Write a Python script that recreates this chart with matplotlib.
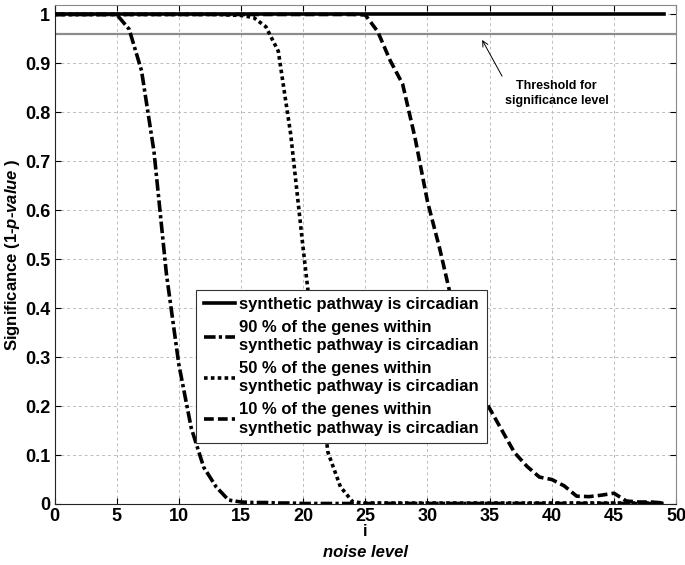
import matplotlib
matplotlib.use('Agg')
import matplotlib.pyplot as plt
import numpy as np

plt.rcParams['font.family'] = ['Liberation Sans', 'DejaVu Sans']
plt.rcParams['font.weight'] = 'bold'
plt.rcParams['mathtext.fontset'] = 'custom'
plt.rcParams['mathtext.rm'] = 'Liberation Sans:bold'
plt.rcParams['mathtext.bfit'] = 'Liberation Sans:italic:bold'

# noise level i = 0 .. 49
noise = list(range(50))

circadian = [1.0] * 50

genes_90 = [1.0, 1.0, 1.0, 1.0, 1.0, 1.0, 0.97, 0.885, 0.72, 0.47,
            0.285, 0.155, 0.075, 0.035, 0.008, 0.004, 0.003, 0.003, 0.002, 0.002,
            0.001, 0.001, 0.001, 0.001, 0.001, 0.001, 0.001, 0.001, 0.001, 0.001,
            0.001, 0.001, 0.001, 0.001, 0.001, 0.001, 0.001, 0.001, 0.001, 0.001,
            0.001, 0.001, 0.001, 0.001, 0.001, 0.001, 0.001, 0.001, 0.001, 0.001]

genes_50 = [1.0, 1.0, 1.0, 1.0, 1.0, 1.0, 1.0, 1.0, 1.0, 1.0,
            1.0, 1.0, 1.0, 1.0, 0.999, 0.998, 0.994, 0.975, 0.925, 0.755,
            0.522, 0.30, 0.105, 0.035, 0.004, 0.002, 0.002, 0.002, 0.002, 0.002,
            0.002, 0.002, 0.002, 0.002, 0.002, 0.002, 0.002, 0.002, 0.002, 0.002,
            0.002, 0.002, 0.002, 0.002, 0.002, 0.002, 0.002, 0.002, 0.002, 0.002]

genes_10 = [1.0, 1.0, 1.0, 1.0, 1.0, 1.0, 1.0, 1.0, 1.0, 1.0,
            1.0, 1.0, 1.0, 1.0, 1.0, 1.0, 1.0, 1.0, 1.0, 1.0,
            1.0, 1.0, 1.0, 1.0, 1.0, 0.999, 0.965, 0.906, 0.858, 0.748,
            0.618, 0.52, 0.41, 0.32, 0.25, 0.195, 0.15, 0.105, 0.077, 0.055,
            0.05, 0.037, 0.016, 0.015, 0.018, 0.022, 0.006, 0.004, 0.004, 0.002]

threshold_x = [0, 50]
threshold_y = [0.96, 0.96]

labels = ['synthetic pathway is circadian',
          '90 % of the genes within\nsynthetic pathway is circadian',
          '50 % of the genes within\nsynthetic pathway is circadian',
          '10 % of the genes within\nsynthetic pathway is circadian']

fig = plt.figure(figsize=(6.85, 5.65), dpi=100)
ax = fig.add_axes([0.0796, 0.108, 0.9074, 0.8837])

ax.plot(threshold_x, threshold_y, color='#8c8c8c', lw=1.6, zorder=2)
ax.plot(noise, circadian, color='black', lw=2.6, ls='-', label=labels[0], zorder=4)
ax.plot(noise, genes_90, color='black', lw=2.6, ls=(0, (3.2, 0.9, 0.9, 0.9)), label=labels[1], zorder=3)
ax.plot(noise, genes_50, color='black', lw=2.6, ls=(0, (1.0, 0.9)), label=labels[2], zorder=3)
ax.plot(noise, genes_10, color='black', lw=2.6, ls=(0, (2.7, 1.15)), label=labels[3], zorder=3)

ax.set_xlim(0, 50)
ax.set_ylim(0, 1.02)
ax.set_xticks(np.arange(0, 51, 5))
ax.set_yticks(np.arange(0, 1.01, 0.1))
ax.set_yticklabels(['0', '0.1', '0.2', '0.3', '0.4', '0.5', '0.6', '0.7', '0.8', '0.9', '1'])
ax.tick_params(direction='in', length=4, width=0.8, top=True, right=True,
               labelsize=13, pad=3)
for lab in ax.get_xticklabels() + ax.get_yticklabels():
    lab.set_fontweight('bold')
ax.grid(True, color='#bdbdbd', ls=(0, (3, 3)), lw=0.7)
for side in ['left', 'bottom']:
    ax.spines[side].set_color('#222222')
for side in ['top', 'right']:
    ax.spines[side].set_color('#888888')

ax.set_ylabel(r'Significance (1-$\mathbfit{p}$-$\mathbfit{value}$ )', fontsize=12, fontweight='bold')
ax.yaxis.set_label_coords(-0.052, 0.5)

ax.text(0.5, -0.056, 'i', transform=ax.transAxes, ha='center', va='center',
        fontsize=12, fontweight='bold')
ax.text(0.5, -0.098, 'noise level', transform=ax.transAxes, ha='center', va='center',
        fontsize=12, fontweight='bold', style='italic')

ax.text(40.4, 0.838, 'Threshold for\nsignificance level', ha='center', va='center',
        fontsize=9, fontweight='bold', linespacing=1.3)
ax.annotate('', xy=(34.4, 0.948), xytext=(36.0, 0.874),
            arrowprops=dict(arrowstyle='->', color='black', lw=0.7, shrinkA=0, shrinkB=0))

leg = ax.legend(loc='lower left', bbox_to_anchor=(0.2277, 0.122), borderaxespad=0,
                handlelength=1.9, handletextpad=0.25, labelspacing=0.45,
                borderpad=0.45, fancybox=False, framealpha=1, edgecolor='#333333',
                prop={'weight': 'bold', 'size': 12})
leg.get_frame().set_linewidth(0.8)
for t in leg.get_texts():
    t.set_linespacing(1.3)

fig.savefig('out.png', dpi=100)
